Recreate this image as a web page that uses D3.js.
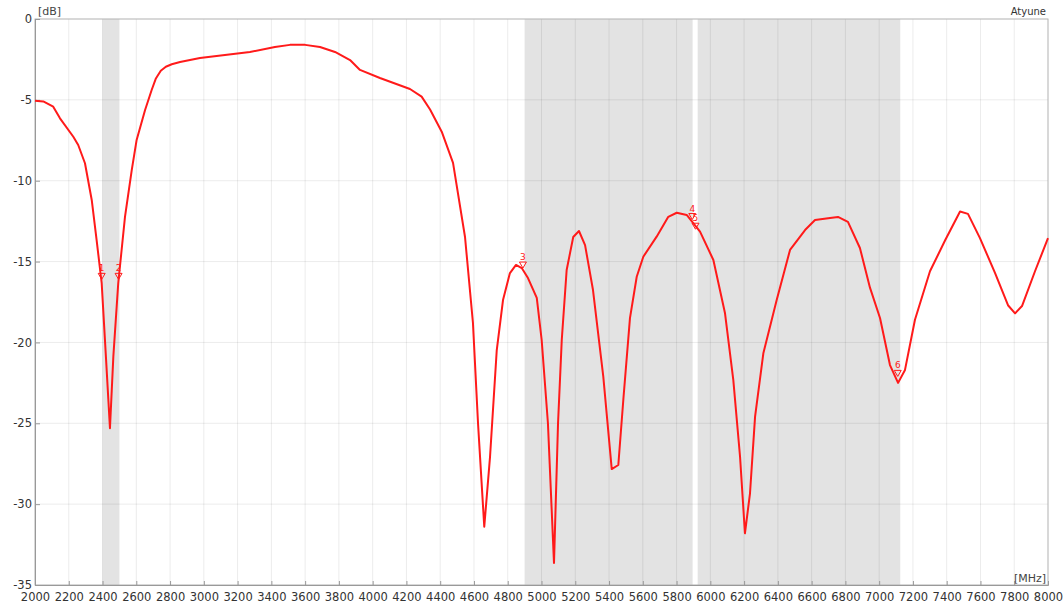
<!DOCTYPE html>
<html>
<head>
<meta charset="utf-8">
<script src="https://cdn.jsdelivr.net/npm/d3@7"></script>
<style>
  body { margin: 0; background: #fff; }
  text { font-family: "DejaVu Sans", sans-serif; }
</style>
</head>
<body>
<div id="chart"></div>
<script>
var freq = [2000, 2049, 2108, 2148, 2227, 2256, 2296, 2336, 2365, 2395, 2420, 2444, 2464, 2493,
            2533, 2573, 2602, 2652, 2691, 2715, 2745, 2775, 2810, 2859, 2977, 3273, 3421, 3510, 3600, 3688,
            3777, 3866, 3925, 4043, 4221, 4290, 4340, 4409, 4476, 4547, 4594, 4624, 4661, 4695,
            4735, 4772, 4813, 4849, 4883, 4920, 4972, 5001, 5038, 5074, 5098, 5120, 5149, 5188,
            5222, 5258, 5305, 5366, 5416, 5455, 5485, 5524, 5564, 5603, 5682, 5751, 5801, 5860,
            5939, 6018, 6087, 6136, 6176, 6205, 6235, 6265, 6314, 6393, 6472, 6561, 6620, 6709,
            6756, 6815, 6886, 6946, 7005, 7064, 7112, 7153, 7212, 7301, 7390, 7479, 7526, 7597,
            7686, 7763, 7805, 7846, 7923, 8000];
var db = [-5.05, -5.1, -5.42, -6.14, -7.28, -7.79, -8.92, -11.19, -13.67, -16.34, -20.88, -25.31, -20.88, -16.34,
          -12.23, -9.34, -7.48, -5.63, -4.39, -3.7, -3.2, -2.95, -2.8, -2.66, -2.41, -2.04, -1.73, -1.6, -1.6, -1.73,
          -2.04, -2.54, -3.15, -3.65, -4.33, -4.8, -5.6, -6.97, -8.9, -13.48, -18.8, -25.0, -31.4, -27.09,
          -20.47, -17.38, -15.71, -15.21, -15.4, -16.02, -17.25, -19.85, -24.98, -33.64, -24.98, -19.85, -15.52, -13.48,
          -13.11, -13.98, -16.76, -22.12, -27.83, -27.58, -23.5, -18.5, -15.94, -14.7, -13.46, -12.23, -11.98, -12.12,
          -13.15, -14.9, -18.2, -22.32, -27.07, -31.8, -29.33, -24.59, -20.67, -17.38, -14.28, -13.05, -12.43, -12.3,
          -12.24, -12.55, -14.16, -16.63, -18.49, -21.4, -22.5, -21.7, -18.6, -15.6, -13.7, -11.9, -12.05, -13.55,
          -15.7, -17.7, -18.2, -17.75, -15.6, -13.55];

// shaded bands [from, to] in MHz
var bandStart = [2400, 4900, 5925];
var bandEnd = [2500, 5895, 7125];

// markers
var markerId = ["1", "2", "3", "4", "5", "6"];
var markerF = [2395, 2495, 4890, 5893, 5912, 7110];
var markerDb = [-16.1, -16.1, -15.4, -12.4, -13.0, -22.1];

var xTicks = d3.range(2000, 8001, 200);
var yTicks = [0, -5, -10, -15, -20, -25, -30, -35];

var W = 1064, H = 609;
var pLeft = 35, pRight = 1048, pTop = 19, pBottom = 585;

var svg = d3.select("#chart").append("svg")
    .attr("width", W)
    .attr("height", H);

var x = d3.scaleLinear().domain([2000, 8000]).range([pLeft, pRight]);
var y = d3.scaleLinear().domain([0, -35]).range([pTop, pBottom]);

// bands
svg.selectAll("rect.band")
    .data(bandStart)
    .enter().append("rect")
    .attr("class", "band")
    .attr("x", function(d) { return x(d); })
    .attr("y", pTop)
    .attr("width", function(d, i) { return x(bandEnd[i]) - x(d); })
    .attr("height", pBottom - pTop)
    .style("fill", "#e3e3e3");

// grid
svg.append("g")
    .selectAll("line")
    .data(xTicks)
    .enter().append("line")
    .attr("x1", function(d) { return x(d); })
    .attr("x2", function(d) { return x(d); })
    .attr("y1", pTop)
    .attr("y2", pBottom)
    .style("stroke", "#000")
    .style("stroke-opacity", 0.08)
    .style("stroke-width", 1);

svg.append("g")
    .selectAll("line")
    .data(yTicks)
    .enter().append("line")
    .attr("x1", pLeft)
    .attr("x2", pRight)
    .attr("y1", function(d) { return y(d); })
    .attr("y2", function(d) { return y(d); })
    .style("stroke", "#000")
    .style("stroke-opacity", 0.08)
    .style("stroke-width", 1);

// frame
svg.append("rect")
    .attr("x", pLeft)
    .attr("y", pTop)
    .attr("width", pRight - pLeft)
    .attr("height", pBottom - pTop)
    .style("fill", "none")
    .style("stroke", "#bbb")
    .style("stroke-width", 1);

// axes
var xaxis = d3.axisBottom(x).tickValues(xTicks).tickSize(-4).tickPadding(8)
    .tickFormat(d3.format("d"));
var yaxis = d3.axisLeft(y).tickValues(yTicks).tickSize(-5).tickPadding(3)
    .tickFormat(function(d) { return d === 0 ? "0" : "-" + Math.abs(d); });

var gx = svg.append("g")
    .attr("transform", "translate(0," + pBottom + ")")
    .call(xaxis);
var gy = svg.append("g")
    .attr("transform", "translate(" + pLeft + ",0)")
    .call(yaxis);

[gx, gy].forEach(function(g) {
    g.select(".domain").style("stroke", "#999");
    g.selectAll(".tick line").style("stroke", "#999");
    g.selectAll(".tick text")
        .style("font-family", "DejaVu Sans, sans-serif")
        .style("font-size", "11.5px")
        .style("fill", "#333");
});
gy.selectAll(".tick text").attr("dy", "0.32em");

// curve
var line = d3.line()
    .x(function(d, i) { return x(freq[i]); })
    .y(function(d) { return y(d); });

svg.append("path")
    .datum(db)
    .attr("d", line)
    .style("fill", "none")
    .style("stroke", "#ff1a1a")
    .style("stroke-width", 2)
    .style("stroke-linejoin", "round");

// markers
var mk = svg.selectAll("g.marker")
    .data(markerId)
    .enter().append("g")
    .attr("class", "marker")
    .attr("transform", function(d, i) {
        return "translate(" + x(markerF[i]) + "," + y(markerDb[i]) + ")";
    });

mk.append("path")
    .attr("d", "M-3.5,-6 L3.5,-6 L0,0 Z")
    .style("fill", "none")
    .style("stroke", "#ff1a1a")
    .style("stroke-width", 1);

mk.append("text")
    .attr("x", 0)
    .attr("y", -8)
    .attr("text-anchor", "middle")
    .style("font-size", "9px")
    .style("fill", "#ff1a1a")
    .text(function(d) { return d; });

// units & title
svg.append("text")
    .attr("x", 38)
    .attr("y", 15)
    .style("font-size", "11px")
    .style("fill", "#444")
    .text("[dB]");

svg.append("text")
    .attr("x", 1046)
    .attr("y", 15)
    .attr("text-anchor", "end")
    .style("font-size", "10px")
    .style("fill", "#333")
    .text("Atyune");

svg.append("text")
    .attr("x", 1046)
    .attr("y", 582)
    .attr("text-anchor", "end")
    .style("font-size", "11px")
    .style("fill", "#444")
    .text("[MHz]");
</script>
</body>
</html>
